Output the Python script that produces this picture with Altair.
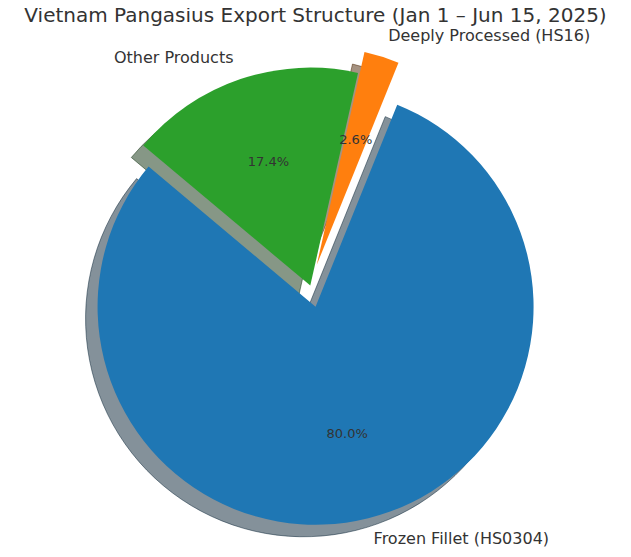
import altair as alt
import pandas as pd

# ---- data ----
labels = ["Frozen Fillet (HS0304)", "Deeply Processed (HS16)", "Other Products"]
shares = [80.0, 2.6, 17.4]

# ---- styles ----
explode = [0.1, 0.1, 0.0]
colors = ["#1f77b4", "#ff7f0e", "#2ca02c"]


def shade(hexc):  # matplotlib-like shadow colour: 0.3 * rgb
    r, g, b = (int(hexc[i:i + 2], 16) for i in (1, 3, 5))
    return "#%02x%02x%02x" % (round(r * 0.3), round(g * 0.3), round(b * 0.3))


shadow_colors = [shade(c) for c in colors]

df = pd.DataFrame({"label": labels, "share": shares, "explode": explode,
                   "order": list(range(len(labels)))})

W, H = 615, 516
PAD_TOP = 25
R = 218.0
CX_PX, CY_PX = 302.3, 252.6   # pie centre inside the view (px)
SH = 12.0                      # shadow offset (px)
x_dom = [-CX_PX / R, (W - CX_PX) / R]
y_dom = [-(H - CY_PX) / R, CY_PX / R]
xs = alt.Scale(domain=x_dom, nice=False, zero=False)
ys = alt.Scale(domain=y_dom, nice=False, zero=False)

base = alt.Chart(df).transform_window(
    cum="sum(share)", sort=[alt.SortField("order")], frame=[None, 0]
).transform_calculate(
    a1="140 + (datum.cum - datum.share) * 3.6",
    a2="140 + datum.cum * 3.6",
).transform_calculate(
    mid="(datum.a1 + datum.a2) / 2 * PI / 180",
    t1="(90 - datum.a2) * PI / 180",
    t2="(90 - datum.a1) * PI / 180",
).transform_calculate(
    cx="datum.explode * cos(datum.mid)",
    cy="datum.explode * sin(datum.mid)",
).transform_calculate(
    sx=f"datum.cx - {SH / R}",
    sy=f"datum.cy - {SH / R}",
    lx="datum.cx + 1.1 * cos(datum.mid)",
    ly="datum.cy + 1.1 * sin(datum.mid)",
    px="datum.cx + 0.6 * cos(datum.mid)",
    py="datum.cy + 0.6 * sin(datum.mid)",
    pct="format(datum.share, '.1f') + '%'",
)

shadow = base.mark_arc(radius=R, fillOpacity=0.5, strokeOpacity=0.5, strokeWidth=1).encode(
    x=alt.X("sx:Q", scale=xs, axis=None),
    y=alt.Y("sy:Q", scale=ys, axis=None),
    theta=alt.Theta("t1:Q", scale=None),
    theta2=alt.Theta2("t2:Q"),
    fill=alt.Fill("label:N", scale=alt.Scale(domain=labels, range=shadow_colors), legend=None),
    stroke=alt.Stroke("label:N", scale=alt.Scale(domain=labels, range=shadow_colors), legend=None),
)

wedges = base.mark_arc(radius=R).encode(
    x=alt.X("cx:Q", scale=xs, axis=None),
    y=alt.Y("cy:Q", scale=ys, axis=None),
    theta=alt.Theta("t1:Q", scale=None),
    theta2=alt.Theta2("t2:Q"),
    color=alt.Color("label:N", scale=alt.Scale(domain=labels, range=colors), legend=None),
)

lab_style = dict(font="DejaVu Sans", fontSize=16, color="#333333", baseline="middle")
labels_right = base.transform_filter("datum.lx > 0").mark_text(align="left", **lab_style).encode(
    x=alt.X("lx:Q", scale=xs, axis=None),
    y=alt.Y("ly:Q", scale=ys, axis=None),
    text="label:N",
)
labels_left = base.transform_filter("datum.lx <= 0").mark_text(align="right", **lab_style).encode(
    x=alt.X("lx:Q", scale=xs, axis=None),
    y=alt.Y("ly:Q", scale=ys, axis=None),
    text="label:N",
)
pcts = base.mark_text(font="DejaVu Sans", fontSize=13, color="#333333",
                      align="center", baseline="middle").encode(
    x=alt.X("px:Q", scale=xs, axis=None),
    y=alt.Y("py:Q", scale=ys, axis=None),
    text="pct:N",
)

chart = alt.layer(shadow, wedges, labels_right, labels_left, pcts).properties(
    width=W, height=H,
    title=alt.TitleParams("Vietnam Pangasius Export Structure (Jan 1 \u2013 Jun 15, 2025)",
                          font="DejaVu Sans", fontSize=20, fontWeight="normal",
                          color="#333333", anchor="middle", offset=1.5),
    autosize=alt.AutoSizeParams(type="none"),
    padding={"top": PAD_TOP, "left": 0, "right": 0, "bottom": 0},
).configure_view(stroke=None)

chart.save("out.html", embed_options={"renderer": "svg", "actions": False})
